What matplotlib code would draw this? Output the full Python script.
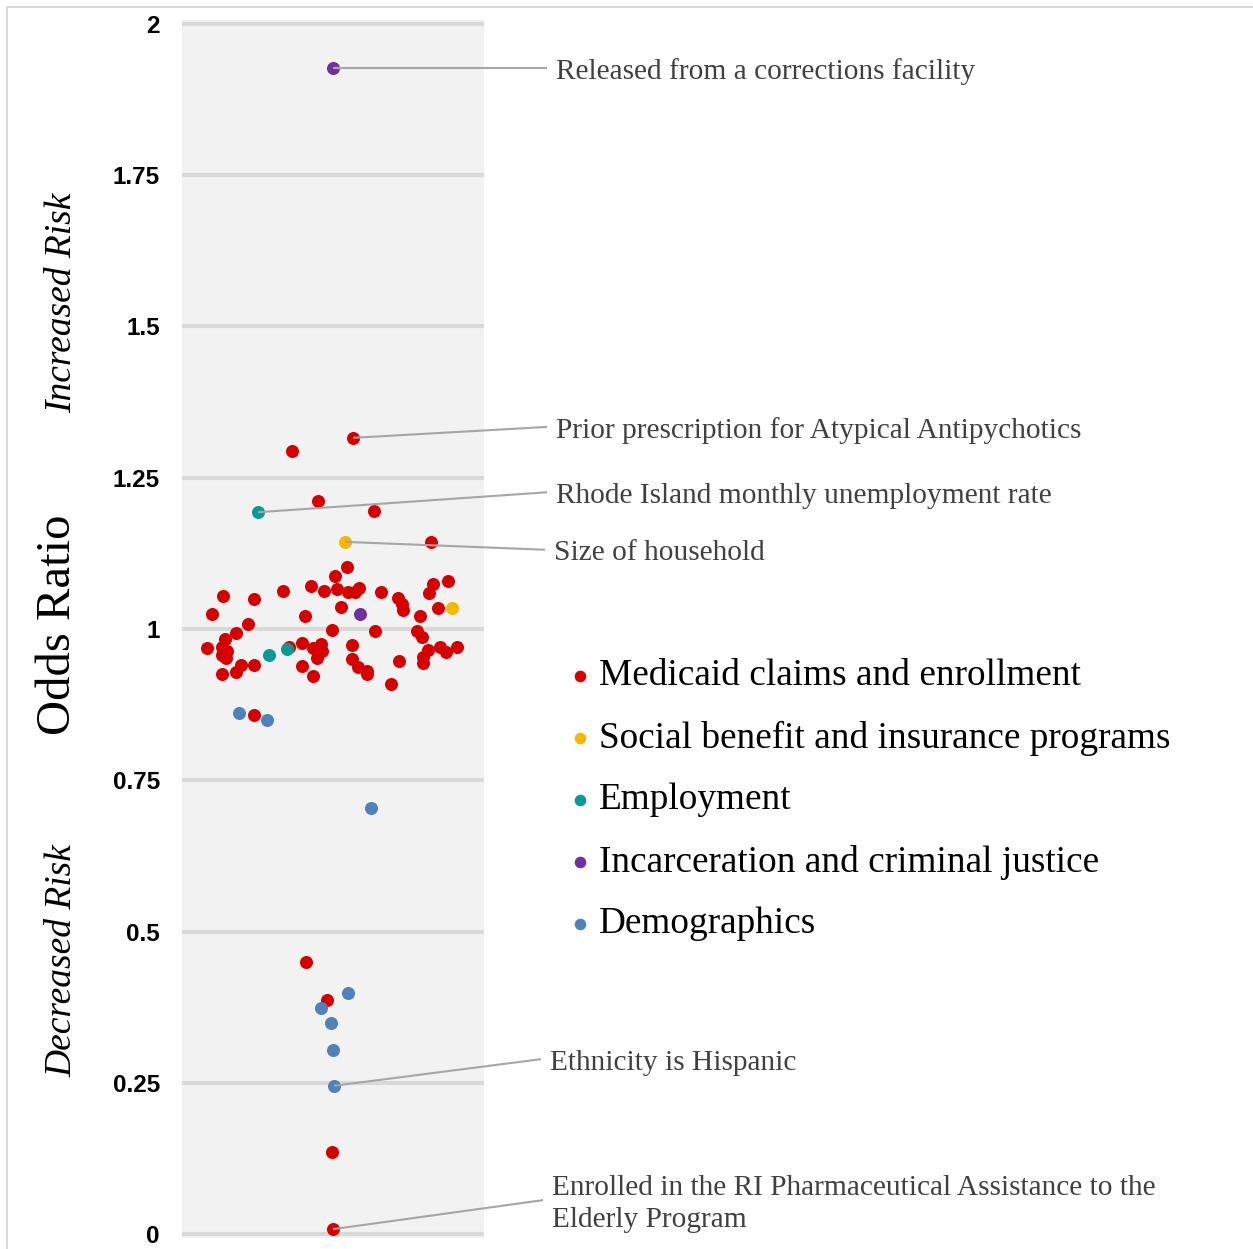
import matplotlib.pyplot as plt
from matplotlib.patches import Rectangle

# data: horizontal jitter position (0-302 across the shaded band) and odds ratio
medicaid_x = [249, 165, 153, 41, 72, 101, 129, 142, 155, 166, 173, 177, 199, 216, 220, 221,
              251, 266, 247, 256, 238, 30, 159, 123, 66, 54, 150, 193, 235, 240, 25, 43,
              40, 45, 40, 44, 107, 120, 131, 139, 140, 135, 170, 170, 176, 185, 185, 217,
              246, 258, 264, 275, 241, 241, 59, 54, 72, 40, 120, 131, 209, 72,
              171, 110, 136, 192, 124, 145, 150, 151]
medicaid_y = [1.143, 1.103, 1.088, 1.055, 1.049, 1.062, 1.071, 1.062, 1.066, 1.061, 1.061, 1.068,
              1.061, 1.052, 1.041, 1.031, 1.075, 1.079, 1.060, 1.034, 1.021, 1.025, 1.037, 1.022,
              1.009, 0.994, 0.998, 0.996, 0.996, 0.986, 0.968, 0.983, 0.971, 0.964, 0.957, 0.952,
              0.970, 0.977, 0.968, 0.975, 0.964, 0.952, 0.973, 0.950, 0.938, 0.931, 0.926, 0.947,
              0.966, 0.970, 0.962, 0.970, 0.953, 0.943, 0.940, 0.929, 0.940, 0.926, 0.939, 0.923,
              0.909, 0.858, 1.316, 1.295, 1.212, 1.195, 0.449, 0.386, 0.136, 0.008]

social_x = [163, 270]
social_y = [1.144, 1.035]

employment_x = [76, 87, 105]
employment_y = [1.193, 0.957, 0.967]

incarceration_x = [151, 178]
incarceration_y = [1.927, 1.025]

demo_x = [57, 85, 189, 166, 139, 149, 151, 152]
demo_y = [0.861, 0.850, 0.704, 0.399, 0.373, 0.349, 0.304, 0.245]

categories = ["Medicaid claims and enrollment", "Social benefit and insurance programs",
              "Employment", "Incarceration and criminal justice", "Demographics"]
colors = ["#d60000", "#f5b800", "#0a9a96", "#7030a0", "#4f81bd"]

# labelled points: text, point (x, y), where the leader line ends (x, y)
notes = [
    ("Released from a corrections facility", (151, 1.927), (365, 1.927)),
    ("Prior prescription for Atypical Antipychotics", (171, 1.316), (365, 1.334)),
    ("Rhode Island monthly unemployment rate", (76, 1.193), (365, 1.226)),
    ("Size of household", (163, 1.144), (363, 1.131)),
    ("Ethnicity is Hispanic", (152, 0.245), (359, 0.289)),
    ("Enrolled in the RI Pharmaceutical Assistance to the\nElderly Program", (151, 0.008), (361, 0.056)),
]

yticks = [0, 0.25, 0.5, 0.75, 1, 1.25, 1.5, 1.75, 2]
ytick_labels = ["0", "0.25", "0.5", "0.75", "1", "1.25", "1.5", "1.75", "2"]

fig = plt.figure(figsize=(12.53, 12.49), dpi=100)
fig.patches.append(Rectangle((7 / 1253, -0.1), 1.2, 1.1 - 7 / 1249, transform=fig.transFigure,
                             fill=False, edgecolor="#d9d9d9", linewidth=1.5))

ax = fig.add_axes([182 / 1253, 0.0091, 302 / 1253, 0.9746])
ax.set_facecolor("#f2f2f2")
ax.set_xlim(0, 302)
ax.set_ylim(-0.006, 2.006)
for s in ax.spines.values():
    s.set_visible(False)
ax.set_xticks([])
ax.set_yticks(yticks)
ax.set_yticklabels(ytick_labels, fontsize=17.5, fontweight="bold", family="Liberation Sans")
ax.tick_params(axis="y", length=0, pad=16)
for t in yticks:
    ax.axhline(t, color="#d9d9d9", linewidth=3, zorder=1)

series = [(medicaid_x, medicaid_y), (social_x, social_y), (employment_x, employment_y),
          (incarceration_x, incarceration_y), (demo_x, demo_y)]
for (xs, ys), c in zip(series, colors):
    ax.scatter(xs, ys, s=88, color=c, zorder=3, linewidths=0, clip_on=False)

for label, (px, py), (lx, ly) in notes:
    ax.plot([px, lx], [py, ly], color="#a6a6a6", linewidth=1.5, zorder=4, clip_on=False,
            solid_capstyle="butt")
    ax.text(lx + 9, ly - 0.006, label, fontsize=21.2, family="Liberation Serif", color="#404040",
            va="center", ha="left", linespacing=1.28, clip_on=False)

# legend
for i, (name, c) in enumerate(zip(categories, colors)):
    ly = 0.922 - i * 0.1025
    ax.scatter([398], [ly], s=70, color=c, clip_on=False, zorder=3, linewidths=0)
    ax.text(417, ly, name, fontsize=26.8, family="Liberation Serif", color="black",
            va="center", ha="left", clip_on=False)

fig.text(58 / 1253, 1 - 625 / 1249, "Odds Ratio", rotation=90, fontsize=35,
         family="Liberation Serif", ha="center", va="center")
fig.text(62 / 1253, 1 - 303 / 1249, "Increased Risk", rotation=90, fontsize=27,
         family="Liberation Serif", style="italic", ha="center", va="center")
fig.text(62 / 1253, 1 - 961 / 1249, "Decreased Risk", rotation=90, fontsize=27,
         family="Liberation Serif", style="italic", ha="center", va="center")

fig.savefig("out.png", dpi=100)
